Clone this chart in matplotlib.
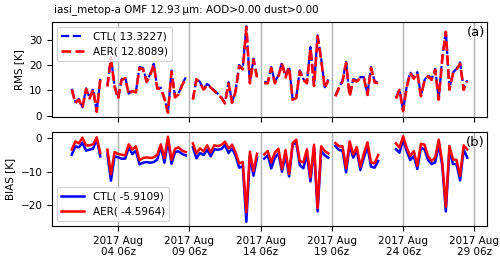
import numpy as np
import pandas as pd
import matplotlib
matplotlib.use("Agg")
import matplotlib.pyplot as plt
import matplotlib.dates as mdates

nan = np.nan

start_time = "2017-08-01 00:00"
n_times = 112

rms_ctl = [10.6, 5.3, 6.6, 3.3, 10.8, 7.0, 10.6, 1.7, 14.5,
           nan,
           11.9, 23.1, 11.9, 7.0, 14.5, 15.2, 8.7, 10.0, 9.5, 19.2, 18.8, 13.7, 16.4, 20.5,
           11.0, 11.0, 7.0, 1.3, 17.8, 7.5, 8.8, 12.5, 15.1,
           nan,
           6.6, 14.8, 13.2, 10.6, 12.5, 11.4, 10.0, 8.7, 7.3, 5.0, 13.2, 5.3, 9.9, 20.0,
           18.7, 35.3, 13.2, 22.5, 15.5,
           nan,
           13.2, 13.2, 19.2, 13.2, 16.0, 21.0, 15.5, 19.5, 6.6, 7.3, 17.9, 14.5, 13.2, 27.1,
           12.0, 31.7, 22.5, 11.2, 14.3,
           nan,
           7.9, 11.2, 13.9, 21.2, 7.9, 14.5, 13.9, 15.2, 15.2, 8.5, 19.2, 13.5, 13.2,
           nan, nan, nan, nan,
           7.0, 10.5, 2.0, 11.5, 17.2, 15.0, 17.2, 8.0, 14.0, 16.0, 14.5, 18.5, 6.6, 23.0,
           33.5, 10.6, 17.0, 18.5, 21.0, 10.5, 14.0]

rms_aer = [10.3, 5.0, 6.3, 3.1, 10.5, 6.8, 10.3, 1.5, 14.1,
           nan,
           11.5, 22.7, 11.5, 6.7, 14.1, 14.8, 8.4, 9.7, 9.2, 18.8, 18.4, 13.3, 16.0, 20.1,
           10.7, 10.7, 6.7, 1.2, 17.4, 7.2, 8.5, 12.1, 14.7,
           nan,
           6.3, 14.4, 12.8, 10.3, 12.1, 11.1, 9.7, 8.4, 7.0, 4.8, 12.8, 5.1, 9.6, 19.6,
           18.3, 34.9, 12.8, 22.1, 15.1,
           nan,
           12.8, 12.8, 18.8, 12.8, 15.6, 20.6, 15.1, 19.1, 6.3, 7.0, 17.5, 14.1, 12.8, 26.7,
           11.7, 31.3, 22.1, 10.9, 13.9,
           nan,
           7.6, 10.9, 13.5, 20.8, 7.6, 14.1, 13.5, 14.8, 14.8, 8.2, 18.8, 13.1, 12.8,
           nan, nan, nan, nan,
           6.7, 10.2, 1.8, 11.1, 16.8, 14.6, 16.8, 7.7, 13.6, 15.6, 14.1, 18.1, 6.3, 22.6,
           33.1, 10.3, 16.6, 18.1, 20.6, 10.2, 13.6]

bias_ctl = [-4.9, -2.4, -2.7, -1.3, -3.7, -3.4, -3.1, -0.2, -5.4,
            nan,
            -4.6, -12.7, -5.4, -5.7, -6.1, -6.1, -2.7, -4.7, -3.7, -7.8, -7.3, -7.1, -7.3, -7.1,
            -6.4, -2.4, -7.3, -0.8, -7.6, -4.1, -3.9, -4.7, -5.1,
            nan,
            -2.7, -6.0, -4.4, -5.0, -3.4, -5.4, -3.3, -3.4, -3.2, -2.0, -4.4, -3.0, -5.3, -8.8,
            -8.3, -25.0, -5.3, -11.2, -5.8,
            nan,
            -6.1, -5.1, -9.0, -5.8, -4.5, -10.0, -5.1, -11.4, -1.9, -1.2, -8.0, -9.0, -4.8, -12.9,
            -2.8, -21.9, -3.8, -5.1, -5.8,
            nan,
            -2.3, -3.5, -3.7, -10.2, -1.9, -5.8, -3.6, -9.5, -5.8, -2.5, -8.5, -8.8, -6.8,
            nan, nan, nan, nan,
            -3.3, -4.3, -0.4, -3.8, -6.5, -5.3, -9.2, -2.8, -3.3, -6.5, -7.7, -7.2, -1.9, -8.2,
            -21.9, -3.5, -7.7, -7.7, -12.6, -3.3, -5.8]

bias_aer = [-3.4, -0.95, -1.5, 0.2, -2.1, -2.1, -1.8, 0.3, -4.4,
            nan,
            -3.4, -10.8, -4.1, -4.7, -4.9, -5.1, -1.8, -3.4, -2.4, -6.6, -5.9, -5.7, -5.9, -5.7,
            -4.9, -1.8, -5.9, 0.5, -6.4, -3.1, -2.7, -3.7, -4.1,
            nan,
            -1.5, -4.5, -3.0, -3.9, -2.1, -4.2, -2.1, -2.3, -2.0, -1.0, -3.0, -1.9, -4.3, -7.5,
            -7.1, -22.2, -4.0, -9.8, -4.6,
            nan,
            -4.8, -3.8, -7.2, -4.3, -3.1, -9.2, -3.5, -10.7, -1.4, -0.4, -6.8, -7.2, -3.3, -11.7,
            -1.9, -20.9, -2.4, -3.8, -4.5,
            nan,
            -1.4, -2.4, -2.4, -9.0, -0.9, -4.8, -2.6, -8.5, -4.5, -1.2, -7.2, -7.5, -5.0,
            nan, nan, nan, nan,
            -1.5, -2.8, 0.6, -2.8, -5.3, -3.8, -8.2, -1.6, -1.9, -5.3, -6.8, -5.8, -0.4, -7.2,
            -20.5, -2.3, -6.3, -6.5, -11.2, -2.1, -3.3]

ctl_rms_label = "CTL( 13.3227)"
aer_rms_label = "AER( 12.8089)"
ctl_bias_label = "CTL( -5.9109)"
aer_bias_label = "AER( -4.5964)"
title = "iasi_metop-a OMF 12.93\u2009\u03bcm: AOD>0.00 dust>0.00"
tick_dates = ["2017-08-04 06:00", "2017-08-09 06:00", "2017-08-14 06:00",
              "2017-08-19 06:00", "2017-08-24 06:00", "2017-08-29 06:00"]

times = pd.date_range(start_time, periods=n_times, freq="6h")

FS = 7.5
fig = plt.figure(figsize=(5.0, 2.61), dpi=100)
ax1 = fig.add_axes([0.104, 0.552, 0.870, 0.364])
ax2 = fig.add_axes([0.104, 0.134, 0.870, 0.360], sharex=ax1)

ax1.plot(times, rms_ctl, color="blue", ls="--", lw=1.6, label=ctl_rms_label)
ax1.plot(times, rms_aer, color="red", ls="--", lw=1.9, label=aer_rms_label)
ax2.plot(times, bias_ctl, color="blue", lw=1.8, label=ctl_bias_label)
ax2.plot(times, bias_aer, color="red", lw=1.8, label=aer_bias_label)

ticks = pd.to_datetime(tick_dates)
for ax in (ax1, ax2):
    ax.set_xticks(ticks)
    ax.grid(axis="x", color="#b0b0b0", lw=1)
    ax.tick_params(labelsize=FS, length=3.5)
ax2.xaxis.set_major_formatter(mdates.DateFormatter("%Y %b\n%d %Hz"))
for lbl in ax2.get_xticklabels():
    lbl.set_horizontalalignment("center")
plt.setp(ax1.get_xticklabels(), visible=False)

ax1.set_yticks([0, 10, 20, 30])
ax2.set_yticks([-20, -10, 0])
ax1.set_ylabel("RMS [K]", fontsize=FS)
ax2.set_ylabel("BIAS [K]", fontsize=FS)

ax1.legend(loc="upper left", fontsize=FS, handlelength=2.2)
ax2.legend(loc="lower left", fontsize=FS, handlelength=2.2)

ax1.text(0.995, 0.96, "(a)", transform=ax1.transAxes, ha="right", va="top", fontsize=9.5)
ax2.text(0.995, 0.96, "(b)", transform=ax2.transAxes, ha="right", va="top", fontsize=9.5)

fig.text(0.108, 0.965, title, ha="left", va="center", fontsize=FS)

fig.savefig("out.png", dpi=100)
